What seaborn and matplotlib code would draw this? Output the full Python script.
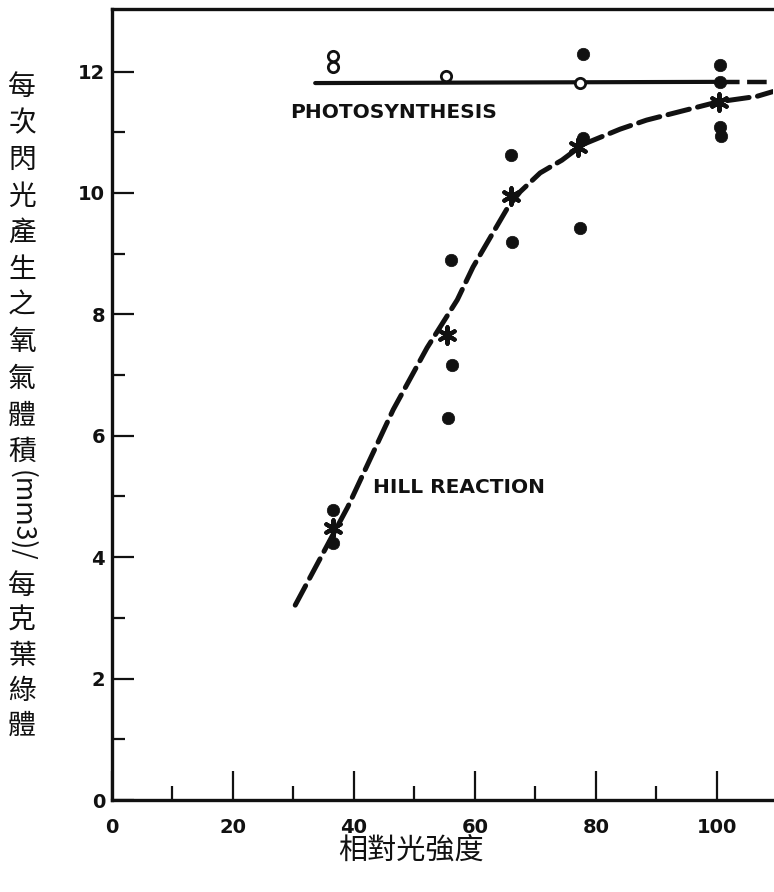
import matplotlib
matplotlib.use("Agg")
import matplotlib.pyplot as plt
import matplotlib.ticker as mticker
import seaborn as sns

# ---- data ----
photo_line_x = [33.6, 100.5]
photo_line_y = [11.81, 11.83]
photo_dash_x = [100.5, 109.3]
photo_dash_y = [11.83, 11.83]

open_x = [36.5, 36.6, 55.3, 77.4]
open_y = [12.25, 12.08, 11.92, 11.81]

solid_x = [36.6, 36.6, 56.0, 56.2, 55.6, 66.0, 66.1, 77.9, 77.9, 77.4, 100.5, 100.5, 100.5, 100.7]
solid_y = [4.77, 4.23, 8.90, 7.17, 6.29, 10.63, 9.20, 12.29, 10.90, 9.43, 12.11, 11.83, 11.09, 10.93]

star_x = [36.6, 55.4, 66.0, 77.1, 100.3]
star_y = [4.48, 7.66, 9.95, 10.76, 11.50]

hill_x = [30.3, 39.0, 46.5, 52.1, 57.1, 59.7, 62.8, 65.5, 67.5, 70.8, 74.4, 77.9,
          84.0, 88.4, 93.9, 100.2, 106.6, 109.3]
hill_y = [3.21, 4.83, 6.43, 7.45, 8.24, 8.78, 9.31, 9.77, 10.02, 10.33, 10.54, 10.80,
          11.05, 11.20, 11.34, 11.50, 11.59, 11.67]

x_ticks = [0, 20, 40, 60, 80, 100]
x_minor = [10, 30, 50, 70, 90]
y_ticks = [0, 2, 4, 6, 8, 10, 12]
y_minor = [1, 3, 5, 7, 9, 11]

ylabel_top = "每次閃光產生之氧氣體積"
ylabel_mid = "(mm3)/"
ylabel_bot = "每克葉綠體"
xlabel = "相對光強度"

sns.set_style("white")
plt.rcParams["font.family"] = ["DejaVu Sans"]

W, H = 774, 892
fig = plt.figure(figsize=(W / 100, H / 100), dpi=100)
ax = fig.add_axes([112 / W, 1 - 800 / H, (773 - 112) / W, (800 - 9) / H])

ink = "#111111"
dash = (0, (4.4, 1.7))

sns.lineplot(x=photo_line_x, y=photo_line_y, ax=ax, color=ink, linewidth=3.0,
             estimator=None, sort=False, zorder=2)
sns.lineplot(x=photo_dash_x, y=photo_dash_y, ax=ax, color=ink, linewidth=3.2,
             estimator=None, sort=False, linestyle=dash, zorder=2)
sns.lineplot(x=hill_x, y=hill_y, ax=ax, color=ink, linewidth=3.6,
             estimator=None, sort=False, linestyle=dash,
             dash_capstyle="round", zorder=2)

sns.scatterplot(x=solid_x, y=solid_y, ax=ax, color=ink, s=80, edgecolor=ink,
                linewidth=0.5, zorder=3)
sns.scatterplot(x=open_x, y=open_y, ax=ax, color="white", s=55, edgecolor=ink,
                linewidth=2.0, zorder=4)
sns.scatterplot(x=star_x, y=star_y, ax=ax, marker=(6, 2, 0), s=140, color=ink,
                linewidth=3.0, zorder=4)

ax.text(29.4, 11.32, "PHOTOSYNTHESIS", fontsize=14.5, fontweight="bold",
        color=ink, ha="left", va="center")
ax.text(43.2, 5.14, "HILL REACTION", fontsize=14.5, fontweight="bold",
        color=ink, ha="left", va="center")

ax.set_xlim(0, 109.3)
ax.set_ylim(0, 13.03)

ax.xaxis.set_major_locator(mticker.FixedLocator(x_ticks))
ax.xaxis.set_minor_locator(mticker.FixedLocator(x_minor))
ax.yaxis.set_major_locator(mticker.FixedLocator(y_ticks))
ax.yaxis.set_minor_locator(mticker.FixedLocator(y_minor))
ax.set_xticklabels([str(v) for v in x_ticks])
ax.set_yticklabels([str(v) for v in y_ticks])

ax.tick_params(axis="x", which="major", direction="in", length=21, width=1.6,
               color=ink, pad=13, labelsize=14, bottom=True)
ax.tick_params(axis="x", which="minor", direction="in", length=10, width=1.6,
               color=ink, bottom=True)
ax.tick_params(axis="y", which="major", direction="in", length=16, width=1.6,
               color=ink, pad=5, labelsize=14, left=True)
ax.tick_params(axis="y", which="minor", direction="in", length=9, width=1.6,
               color=ink, left=True)
for lab in ax.get_xticklabels() + ax.get_yticklabels():
    lab.set_fontweight("bold")
    lab.set_color(ink)

for side in ["left", "bottom", "top"]:
    ax.spines[side].set_visible(True)
    ax.spines[side].set_linewidth(2.4)
    ax.spines[side].set_color(ink)
ax.spines["right"].set_visible(False)

cjk = ["Noto Sans CJK TC", "DejaVu Sans"]
ax.set_xlabel(xlabel, fontsize=21, family=cjk, color=ink)
ax.xaxis.set_label_coords((411 - 112) / (773 - 112), (800 - 851) / (800 - 9))
ax.xaxis.label.set_va("center")

# vertical stacked y label
step = 36.5
y0 = 87
xc = 22 / W
for i, ch in enumerate(ylabel_top):
    fig.text(xc, 1 - (y0 + i * step) / H, ch, fontsize=20, family=cjk,
             ha="center", va="center", color=ink)
fig.text(xc, 1 - 516 / H, ylabel_mid, fontsize=19, family=cjk,
         rotation=-90, ha="center", va="center", color=ink)
yb = 586
for i, ch in enumerate(ylabel_bot):
    fig.text(xc, 1 - (yb + i * 35) / H, ch, fontsize=20, family=cjk,
             ha="center", va="center", color=ink)

fig.savefig("out.png", dpi=100)
